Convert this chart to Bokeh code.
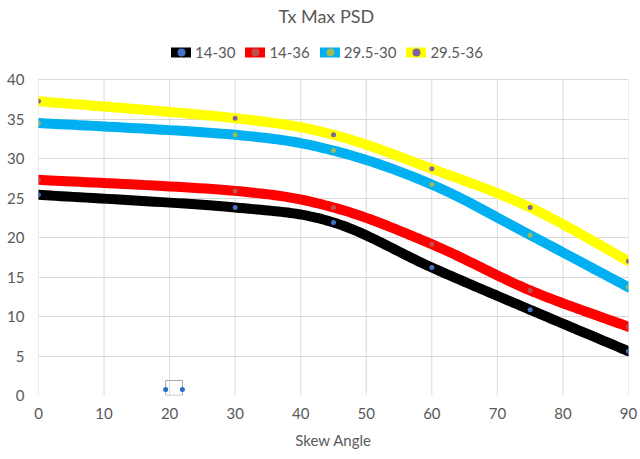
import numpy as np
from bokeh.plotting import figure
from bokeh.models import Range1d, Legend, LegendItem, FixedTicker, Label
from bokeh.embed import file_html
from bokeh.resources import INLINE

# ---- data ----
skew = [0, 30, 45, 60, 75, 90]
s14_30 = [25.4, 23.8, 21.9, 16.2, 10.85, 5.6]
s14_36 = [27.3, 25.9, 23.8, 19.15, 13.3, 8.7]
s295_30 = [34.5, 33.0, 31.0, 26.7, 20.3, 13.7]
s295_36 = [37.25, 35.1, 33.0, 28.7, 23.8, 17.0]
series_names = ["14-30", "14-36", "29.5-30", "29.5-36"]
x_ticks = [0, 10, 20, 30, 40, 50, 60, 70, 80, 90]
y_ticks = [0, 5, 10, 15, 20, 25, 30, 35, 40]
# small stray object (selected shape) near the axis
stray_x = [19.4, 21.95]
stray_y = [0.76, 0.76]
stray_left = [19.4]
stray_right = [21.95]
stray_bottom = [0.02]
stray_top = [1.9]

line_colors = ["#000000", "#FF0000", "#00B0F0", "#FFFF00"]
marker_colors = ["#4472C4", "#C0504D", "#9BBB59", "#8064A2"]
TXT = "#595959"
GRID = "#D9D9D9"
FONT = "Lato"


def smooth(xs, ys, n=30):
    """Excel-style smoothed line (cubic Bezier through the data points)."""
    P = np.column_stack([xs, ys]).astype(float)
    out = [P[0]]
    for i in range(len(P) - 1):
        p0 = P[i - 1] if i > 0 else P[i]
        p1 = P[i]
        p2 = P[i + 1]
        p3 = P[i + 2] if i + 2 < len(P) else P[i + 1]
        c1 = p1 + (p2 - p0) / 6.0
        c2 = p2 - (p3 - p1) / 6.0
        t = np.linspace(0, 1, n + 1)[1:, None]
        seg = ((1 - t) ** 3) * p1 + 3 * ((1 - t) ** 2) * t * c1 + 3 * (1 - t) * t ** 2 * c2 + t ** 3 * p2
        out.extend(seg)
    out = np.array(out)
    return out[:, 0], out[:, 1]


# frame covers the whole top area; the value axis only goes to 40,
# the space above holds the title and legend
p = figure(width=640, height=459, output_backend="svg", toolbar_location=None,
           title=None,
           x_range=Range1d(0, 90), y_range=Range1d(0, 50),
           min_border_left=38, min_border_right=12, min_border_bottom=64,
           min_border_top=0)
p.background_fill_color = "white"
p.border_fill_color = "white"
p.outline_line_color = None

for ax in (p.xaxis, p.yaxis):
    ax.axis_line_color = None
    ax.major_tick_line_color = None
    ax.minor_tick_line_color = None
    ax.major_tick_out = 0
    ax.major_tick_in = 0
    ax.major_label_text_font = FONT
    ax.major_label_text_font_size = "15px"
    ax.major_label_text_color = TXT
p.xaxis.ticker = FixedTicker(ticks=x_ticks)
p.yaxis.ticker = FixedTicker(ticks=y_ticks)
p.xaxis.major_label_standoff = 12
p.yaxis.major_label_standoff = 14
p.xaxis.axis_label = "Skew Angle"
p.xaxis.axis_label_text_font = FONT
p.xaxis.axis_label_text_font_size = "15px"
p.xaxis.axis_label_text_font_style = "normal"
p.xaxis.axis_label_text_color = TXT
p.xaxis.axis_label_standoff = 9

p.xgrid.visible = False
p.ygrid.grid_line_color = GRID
# vertical gridlines only over the value range
p.segment(x0=x_ticks, y0=[y_ticks[0]] * len(x_ticks), x1=x_ticks, y1=[y_ticks[-1]] * len(x_ticks),
          line_color=GRID, line_width=1)

items = []
for name, ys, lc, mc in zip(series_names, [s14_30, s14_36, s295_30, s295_36], line_colors, marker_colors):
    sx, sy = smooth(skew, ys)
    r1 = p.line(sx, sy, line_color=lc, line_width=10, line_cap="round", line_join="round")
    r2 = p.scatter(skew, ys, size=5, fill_color=mc, line_color=None)
    items.append(LegendItem(label=name, renderers=[r1, r2]))

p.quad(left=stray_left, right=stray_right, bottom=stray_bottom, top=stray_top,
       fill_color=None, line_color="#A6A6A6", line_width=1)
p.scatter(stray_x, stray_y, size=5, fill_color="#1F6FD0", line_color=None)

legend = Legend(items=items, orientation="horizontal", location=(133, 333),
                label_text_font=FONT, label_text_font_size="15px", label_text_color=TXT,
                glyph_width=20, glyph_height=20, label_height=20, label_standoff=4, spacing=10,
                padding=0, margin=0, border_line_color=None, background_fill_alpha=0)
p.add_layout(legend, "center")

title = Label(x=43.9, y=48.0, text="Tx Max PSD", text_align="center", text_baseline="middle",
              text_font=FONT, text_font_size="18px", text_color=TXT)
p.add_layout(title)

open("out.html", "w").write(file_html(p, INLINE))
